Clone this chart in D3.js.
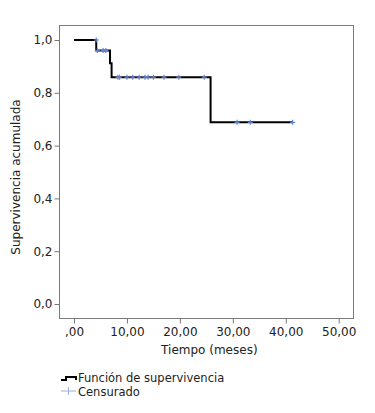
<!DOCTYPE html>
<meta charset='utf-8'>
<style>
  body { margin: 0; background: #fff; }
  svg text { font-family: "DejaVu Sans", Verdana, sans-serif; fill: #222; }
  .axis path { display: none; }
  .axis line { stroke: #777; }
</style>
<body>
<div id="viz"></div>
<script src="https://d3js.org/d3.v7.min.js"></script>
<script>

// survival step function (time in months, cumulative survival)
const stepTimes = [0, 4.2, 6.8, 7.1, 25.8];
const stepSurv  = [1.0, 0.96, 0.912, 0.859, 0.688];
const endTime = 41.3;

// censored observations
const censorTimes = [4.2, 4.4, 5.5, 6.0, 8.3, 8.6, 10.0, 11.1, 12.3, 13.4, 14.0, 15.0, 17.0, 19.8, 24.6, 30.8, 33.3, 41.3];
const censorSurv  = [1.0, 0.96, 0.96, 0.96, 0.859, 0.859, 0.859, 0.859, 0.859, 0.859, 0.859, 0.859, 0.859, 0.859, 0.859, 0.688, 0.688, 0.688];

const xTicks = [0, 10, 20, 30, 40, 50];
const xTickLabels = [',00', '10,00', '20,00', '30,00', '40,00', '50,00'];
const yTicks = [0, 0.2, 0.4, 0.6, 0.8, 1.0];
const yTickLabels = ['0,0', '0,2', '0,4', '0,6', '0,8', '1,0'];

const legendLabels = ['Función de supervivencia', 'Censurado'];

var W = 375, H = 413;
var fs = '12px';
var frame = {left: 59.5, top: 25.5, right: 353.5, bottom: 318.5};

var svg = d3.select('#viz').append('svg')
  .attr('width', W).attr('height', H);

var x = d3.scaleLinear().domain([0, 50]).range([74, 338.7]);
var y = d3.scaleLinear().domain([0, 1]).range([304, 40]);

svg.append('rect')
  .attr('x', frame.left).attr('y', frame.top)
  .attr('width', frame.right - frame.left)
  .attr('height', frame.bottom - frame.top)
  .attr('fill', 'none').attr('stroke', '#7a7a7a');

var xAxis = d3.axisBottom(x).tickValues(xTicks).tickSize(5).tickPadding(4)
  .tickFormat((d, i) => xTickLabels[i]);
var yAxis = d3.axisLeft(y).tickValues(yTicks).tickSize(5).tickPadding(2)
  .tickFormat((d, i) => yTickLabels[i]);

svg.append('g').attr('class', 'x axis')
  .attr('transform', 'translate(0,' + frame.bottom + ')')
  .call(xAxis)
  .selectAll('text').style('font-size', fs).style('font-family', '"DejaVu Sans", Verdana, sans-serif').attr('fill', '#222');

svg.append('g').attr('class', 'y axis')
  .attr('transform', 'translate(' + frame.left + ',0)')
  .call(yAxis)
  .selectAll('text').style('font-size', fs).style('font-family', '"DejaVu Sans", Verdana, sans-serif').attr('fill', '#222');

// step line
var pts = stepTimes.map((t, i) => [t, stepSurv[i]]);
pts.push([endTime, stepSurv[stepSurv.length - 1]]);
var line = d3.line().x(d => x(d[0])).y(d => y(d[1])).curve(d3.curveStepAfter);

svg.append('path')
  .attr('d', line(pts))
  .attr('fill', 'none').attr('stroke', '#000').attr('stroke-width', 2);

// censor marks
var cs = 2.5;
svg.append('g').selectAll('path.censor')
  .data(censorTimes.map((t, i) => [t, censorSurv[i]]))
  .join('path')
  .attr('d', d => {
    var cx = x(d[0]), cy = y(d[1]);
    return 'M' + (cx - cs) + ',' + cy + 'H' + (cx + cs) + 'M' + cx + ',' + (cy - cs) + 'V' + (cy + cs);
  })
  .attr('stroke', '#6482d4').attr('stroke-width', 1.2).attr('fill', 'none');

// axis titles
svg.append('text')
  .attr('x', (x(0) + x(50)) / 2 + 3).attr('y', 354)
  .attr('text-anchor', 'middle').style('font-size', fs)
  .text('Tiempo (meses)');

svg.append('text')
  .attr('transform', 'translate(20,' + ((frame.top + frame.bottom) / 2 + 5) + ') rotate(-90)')
  .attr('text-anchor', 'middle').style('font-size', fs)
  .text('Supervivencia acumulada');

// legend
var lg = svg.append('g').attr('transform', 'translate(61,0)');
lg.append('path')
  .attr('d', 'M0,380H5V377H15V380')
  .attr('fill', 'none').attr('stroke', '#000').attr('stroke-width', 2);
lg.append('path')
  .attr('d', 'M0,391H15M7.5,387V395')
  .attr('fill', 'none').attr('stroke', '#9aaee0').attr('stroke-width', 1);
lg.selectAll('text.leg')
  .data(legendLabels)
  .join('text')
  .attr('x', 17).attr('y', (d, i) => 382 + i * 13.5)
  .style('font-size', '11.5px')
  .text(d => d);

</script>
</body>
